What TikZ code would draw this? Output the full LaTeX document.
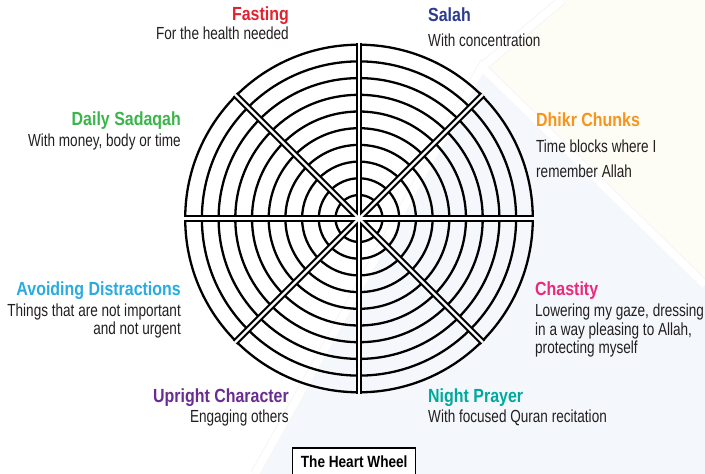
\documentclass[tikz,border=0pt]{standalone}
\usepackage{fontspec}
\setmainfont{Liberation Sans}
\newfontfamily\headfont{Liberation Sans}[FakeStretch=0.84]
\newfontfamily\bodyfont{Liberation Sans}[FakeStretch=0.775]
\usetikzlibrary{calc}
\definecolor{fastred}{HTML}{E0232E}
\definecolor{salahblue}{HTML}{2B3A92}
\definecolor{dhikrorange}{HTML}{F7941D}
\definecolor{chastpink}{HTML}{EC297B}
\definecolor{nightteal}{HTML}{00A99D}
\definecolor{uprightpurple}{HTML}{6A2C91}
\definecolor{avoidblue}{HTML}{29ABE2}
\definecolor{sadaqahgreen}{HTML}{3AB54A}
\definecolor{notegray}{HTML}{231F20}
\definecolor{bgblue}{HTML}{F4F8FC}
\definecolor{bgcream}{HTML}{FDFCF5}
\tikzset{
  ring/.style     = {black, line width=2.3pt},
  spokeout/.style = {black, line width=6.4pt},
  spokein/.style  = {white, line width=2.3pt},
  heading/.style  = {font=\headfont\bfseries\fontsize{19}{21}\selectfont, inner sep=0pt},
  note/.style     = {font=\bodyfont\fontsize{17.5}{19}\selectfont, text=notegray, inner sep=0pt},
  tagbox/.style   = {draw, line width=1.3pt, fill=white, minimum width=123pt, minimum height=28pt,
                     inner sep=0pt, font=\headfont\bfseries\fontsize{16.2}{18}\selectfont}
}

\begin{document}
\begin{tikzpicture}[x=1pt, y=-1pt]
  \useasboundingbox (0,0) rectangle (705,474);
  \clip (0,0) rectangle (705,474);

  % backdrop
  \fill[bgblue] (255,474) -- (482,67) -- (705,285) -- (705,474) -- cycle;
  \fill[bgcream] (562,0) -- (705,0) -- (705,285) -- (482,67) -- cycle;
  \draw[black!3, line width=10pt] (255,474) -- (482,67) -- (705,285) (482,67) -- (562,0);
  \draw[white, line width=7.5pt] (255,474) -- (482,67) -- (705,285) (482,67) -- (562,0);

  % wheel
  \begin{scope}[shift={(359,218.5)}]
    \foreach \k in {0,...,9}{
      \draw[ring] (0,0) circle[radius=23.5+16.7*\k];
    }
    \foreach \a in {0,45,...,315}{
      \draw[spokeout] (0,0) -- (\a:175.2);
    }
    \foreach \a in {0,45,...,315}{
      \draw[spokein] (0,0) -- (\a:175.3);
    }
  \end{scope}

  \node[heading, text=fastred, anchor=base east] (fastTitle) at (289,20) {Fasting};
  \node[note, anchor=base east] (fastNote) at (289,39) {For the health needed};

  \node[heading, text=salahblue, anchor=base west] (salahTitle) at (428,21) {Salah};
  \node[note, anchor=base west] (salahNote) at (428,46) {With concentration};

  \node[heading, text=dhikrorange, anchor=base west] (dhikrTitle) at (536,126) {Dhikr Chunks};
  \node[note, anchor=base west] (dhikrNoteA) at (536,152) {Time blocks where I};
  \node[note, anchor=base west] (dhikrNoteB) at (536,177) {remember Allah};

  \node[heading, text=sadaqahgreen, anchor=base east] (sadaqahTitle) at (181,125) {Daily Sadaqah};
  \node[note, anchor=base east] (sadaqahNote) at (181,146) {With money, body or time};

  \node[heading, text=avoidblue, anchor=base east] (avoidTitle) at (181,295) {Avoiding Distractions};
  \node[note, anchor=base east] (avoidNoteA) at (181,316) {Things that are not important};
  \node[note, anchor=base east] (avoidNoteB) at (181,334) {and not urgent};

  \node[heading, text=chastpink, anchor=base west] (chastTitle) at (535,295) {Chastity};
  \node[note, anchor=base west] (chastNoteA) at (535,316) {Lowering my gaze, dressing};
  \node[note, anchor=base west] (chastNoteB) at (535,335) {in a way pleasing to Allah,};
  \node[note, anchor=base west] (chastNoteC) at (535,353) {protecting myself};

  \node[heading, text=uprightpurple, anchor=base east] (uprightTitle) at (289,402) {Upright Character};
  \node[note, anchor=base east] (uprightNote) at (289,422) {Engaging others};

  \node[heading, text=nightteal, anchor=base west] (nightTitle) at (428,402) {Night Prayer};
  \node[note, anchor=base west] (nightNote) at (428,422) {With focused Quran recitation};

  \node[tagbox] (wheelTag) at (354.2,462) {The Heart Wheel};
\end{tikzpicture}
\end{document}
